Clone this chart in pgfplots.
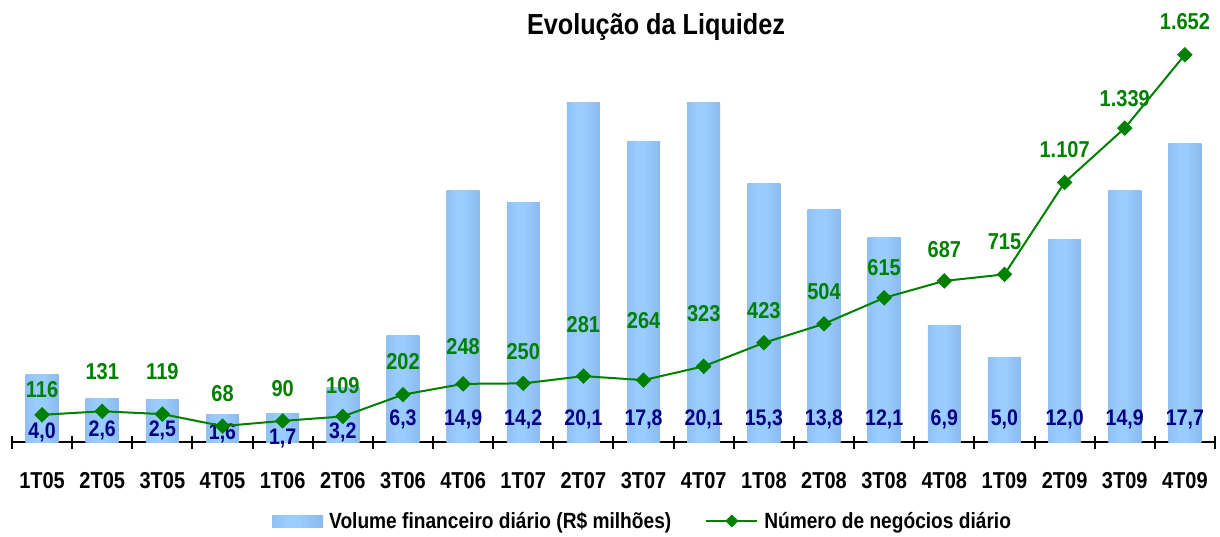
\documentclass[border=0pt]{standalone}
\usepackage{pgfplots}
\pgfplotsset{compat=1.18}
\usepackage{pgfplotstable}
\usepackage{fontspec}
\setmainfont{Liberation Sans}[FakeStretch=0.87]
\definecolor{barlight}{RGB}{153,204,255}
\definecolor{bardark}{RGB}{126,166,216}
\definecolor{lgreen}{RGB}{0,128,0}
\definecolor{navy}{RGB}{0,0,128}
\pgfdeclarehorizontalshading{barshade}{100bp}{color(0bp)=(bardark!80!barlight); color(40bp)=(barlight); color(52bp)=(barlight); color(100bp)=(bardark)}
\pgfplotsset{
  mylineleg/.style={legend image code/.code={\draw[mark repeat=2, mark phase=2, ##1, mark size=3.6pt] plot coordinates {(0pt,0pt) (25.5pt,0pt) (51pt,0pt)};}},
  mybarleg/.style={legend image code/.code={\shade[shading=barshade, draw=none] (0pt,-6pt) rectangle (51pt,6pt);}}
}

\pgfplotstableread{
x vol vlab vly tr tlab tly
0 4.0 4,0 0.18 116 116 188
1 2.6 2,6 0.30 131 131 265
2 2.5 2,5 0.30 119 119 265
3 1.6 1,6 0.12 68 68 171
4 1.7 1,7 -0.12 90 90 192
5 3.2 3,2 0.18 109 109 209
6 6.3 6,3 0.97 202 202 311
7 14.9 14,9 0.97 248 248 375
8 14.2 14,2 0.97 250 250 354
9 20.1 20,1 0.97 281 281 465
10 17.8 17,8 0.97 264 264 482
11 20.1 20,1 0.97 323 323 512
12 15.3 15,3 0.97 423 423 525
13 13.8 13,8 0.97 504 504 606
14 12.1 12,1 0.97 615 615 712
15 6.9 6,9 0.97 687 687 789
16 5.0 5,0 0.97 715 715 819
17 12.0 12,0 0.97 1107 1.107 1212
18 14.9 14,9 0.97 1339 1.339 1433
19 17.7 17,7 0.97 1652 1.652 1758
}\data

\begin{document}
\begin{tikzpicture}
\path[use as bounding box] (0pt,0pt) rectangle (1220pt,536pt);
\node[anchor=base, font=\fontsize{29}{34}\selectfont\bfseries] at (656pt,501pt) {Evolução da Liquidez};

\begin{axis}[
  at={(12pt,94pt)}, anchor=south west,
  scale only axis, width=1203pt, height=422pt,
  xmin=-0.5, xmax=19.5, ymin=0, ymax=25,
  clip=false,
  axis x line*=bottom, axis y line=none,
  axis line style={line width=2.5pt, black},
  xtick={0,...,19},
  xticklabels={1T05,2T05,3T05,4T05,1T06,2T06,3T06,4T06,1T07,2T07,3T07,4T07,1T08,2T08,3T08,4T08,1T09,2T09,3T09,4T09},
  major tick length=0pt,
  xticklabel style={font=\fontsize{23}{27}\selectfont\bfseries, anchor=base, yshift=-46pt},
  extra x ticks={-0.5,0.5,...,19.5},
  extra x tick labels={},
  extra x tick style={major tick length=13pt, tick align=center, tick style={line width=2pt, black}},
]
\pgfplotsinvokeforeach{0,...,19}{
  \addplot[ybar, bar width=33pt, bar shift=0pt, draw=none, shade, shading=barshade, forget plot,
    x filter/.expression={abs(x-#1)<0.1 ? x : nan}] table[x=x, y=vol] {\data};
}
\addplot[draw=none, mark=none, forget plot, nodes near coords, point meta=explicit symbolic,
  every node near coord/.style={anchor=base, text=navy, inner sep=0pt, font=\fontsize{22.5}{26}\selectfont\bfseries}]
  table[x=x, y=vly, meta=vlab] {\data};
\end{axis}

\begin{axis}[
  at={(12pt,94pt)}, anchor=south west,
  scale only axis, width=1203pt, height=422pt,
  xmin=-0.5, xmax=19.5, ymin=0, ymax=1800,
  clip=false,
  axis lines=none,
  legend style={at={(0.2161,-0.1872)}, anchor=west, draw=none, fill=none, inner sep=0pt,
    font=\fontsize{22}{26}\selectfont\bfseries, legend columns=2,
    nodes={inner sep=0pt},
    /tikz/every odd column/.append style={column sep=6pt},
    /tikz/every even column/.append style={column sep=34pt}},
  legend cell align=left,
]
\addlegendimage{mybarleg}
\addlegendentry{Volume financeiro diário (R\$ milhões)}
\addplot[lgreen, line width=2pt, mark=square*, mark size=4.5pt, mark options={rotate=45, solid}, mylineleg]
  table[x=x, y=tr] {\data};
\addlegendentry{Número de negócios diário}
\addplot[draw=none, mark=none, forget plot, nodes near coords, point meta=explicit symbolic,
  every node near coord/.style={anchor=base, text=lgreen, inner sep=0pt, font=\fontsize{23}{27}\selectfont\bfseries}]
  table[x=x, y=tly, meta=tlab] {\data};
\end{axis}
\end{tikzpicture}
\end{document}
